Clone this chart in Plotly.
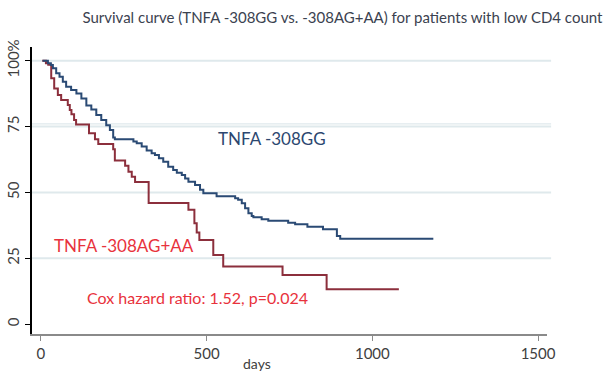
import plotly.graph_objects as go

# ---- data ----
gg_days = [5, 21, 30, 36, 46, 56, 66, 76, 91, 107, 122, 137, 152, 167, 182, 197, 208, 218, 223,
           279, 289, 304, 319, 334, 344, 356, 369, 384, 399, 410, 425, 435, 445, 465, 480, 490,
           530, 586, 595, 606, 616, 626, 636, 641, 666, 686, 746, 767, 804, 851, 893, 903, 1184]
gg_surv = [100, 99, 98.4, 97.1, 95.2, 93.9, 92.0, 90.1, 88.9, 87.6, 85.7, 83.0, 81.5, 79.4, 77.5,
           75.5, 73.7, 70.9, 70.2, 69.3, 68.7, 67.4, 65.9, 64.9, 64.2, 63.0, 61.7, 59.8, 58.5,
           57.5, 56.6, 55.3, 54.1, 52.8, 51.0, 49.7, 48.6, 47.8, 47.2, 45.9, 44.0, 42.1, 41.1,
           40.6, 39.8, 39.3, 38.5, 37.9, 37.0, 36.0, 33.5, 32.4, 32.4]

ag_days = [4, 15, 22, 31, 40, 51, 61, 81, 87, 92, 100, 106, 145, 163, 173, 218, 223, 254, 264,
           274, 284, 325, 445, 463, 470, 478, 520, 550, 729, 862, 1080]
ag_surv = [100, 99, 98.5, 93.3, 89.5, 87.0, 85.1, 83.2, 81.3, 79.7, 77.5, 75.8, 72.5, 70.2, 68.4,
           66.4, 62.1, 60.1, 57.9, 56.0, 54.0, 46.0, 43.4, 38.3, 34.8, 32.0, 26.3, 21.9, 18.7,
           13.3, 13.3]

y_tickvals = [0, 25, 50, 75, 100]
y_ticktext = ["0", "25", "50", "75", "100%"]
x_tickvals = [0, 500, 1000, 1500]
x_ticktext = ["0", "500", "1000", "1500"]
grid_vals = [25, 50, 75, 76, 100]

title_text = "Survival curve (TNFA -308GG vs. -308AG+AA) for patients with low CD4 count"
label_gg = "TNFA -308GG"
label_ag = "TNFA -308AG+AA"
cox_text = "Cox hazard ratio: 1.52, p=0.024"

FONT = "Lato"
BLUE = "#2a4a74"
DARKRED = "#8c2f3c"
RED = "#e8323c"
GRID = "#dfe9ec"

fig = go.Figure()

for gv in grid_vals:
    fig.add_shape(type="line", xref="paper", yref="y", x0=0, x1=1.008, y0=gv, y1=gv,
                  line=dict(color=GRID, width=2 if gv != 76 else 1.2), layer="below")

fig.add_trace(go.Scatter(x=ag_days, y=ag_surv, mode="lines", line_shape="hv",
                         line=dict(color=DARKRED, width=2), showlegend=False, hoverinfo="skip"))
fig.add_trace(go.Scatter(x=gg_days, y=gg_surv, mode="lines", line_shape="hv",
                         line=dict(color=BLUE, width=2), showlegend=False, hoverinfo="skip"))

fig.add_annotation(x=697, y=70.5, text=label_gg, showarrow=False, xanchor="center", yanchor="middle",
                   font=dict(family=FONT, size=17, color="#2c4770"))
fig.add_annotation(x=250, y=29.7, text=label_ag, showarrow=False, xanchor="center", yanchor="middle",
                   font=dict(family=FONT, size=17, color=RED))
fig.add_annotation(x=471, y=10.0, text=cox_text, showarrow=False, xanchor="center", yanchor="middle",
                   font=dict(family=FONT, size=16, color=RED))
fig.add_annotation(xref="paper", yref="paper", x=0.437, y=-0.103, text="days", showarrow=False,
                   xanchor="center", yanchor="middle", font=dict(family=FONT, size=14, color="#404040"))

fig.update_layout(
    width=605, height=372,
    margin=dict(l=32, r=58, t=47, b=38, autoexpand=False),
    paper_bgcolor="white", plot_bgcolor="white",
    title=dict(text=title_text, x=0.566, xanchor="center", y=0.952, yanchor="middle",
               font=dict(family=FONT, size=15, color="#3b4250")),
    font=dict(family=FONT),
    xaxis=dict(range=[-27, 1527], tickvals=x_tickvals, ticktext=x_ticktext, automargin=False,
               showgrid=False, zeroline=False, showline=True, linecolor="#8a8a8a", linewidth=1.5,
               ticks="outside", ticklen=5, tickcolor="#8a8a8a",
               tickfont=dict(family=FONT, size=15, color="#404040")),
    yaxis=dict(range=[-3.7, 105.2], tickvals=y_tickvals, ticktext=y_ticktext, tickangle=-90,
               automargin=False,
               showgrid=False, zeroline=False, showline=True, linecolor="black", linewidth=1.5,
               ticks="outside", ticklen=5, tickcolor="black",
               tickfont=dict(family=FONT, size=15, color="#404040")),
)

fig.write_html("out.html", config={"displayModeBar": False},
               post_script="document.body.style.margin='0';document.body.style.padding='0';")
